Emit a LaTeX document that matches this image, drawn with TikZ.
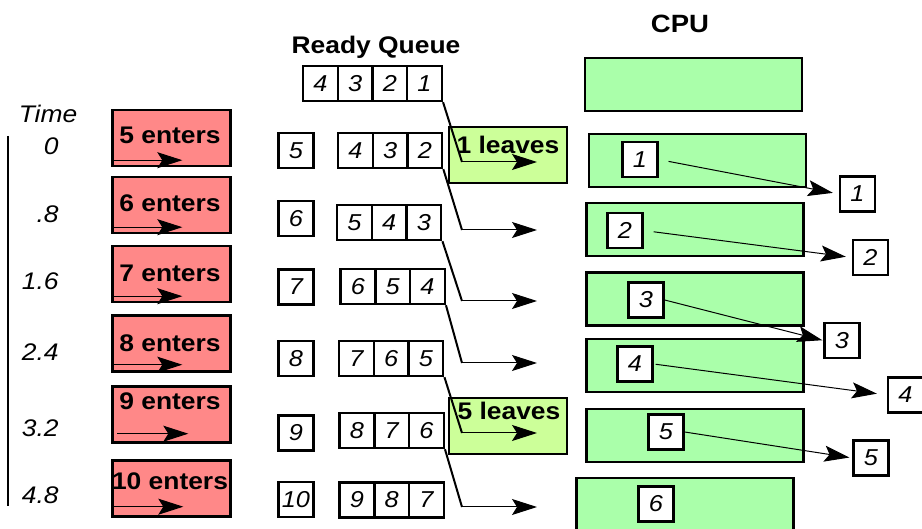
\documentclass[tikz,border=0pt]{standalone}
\usepackage{fontspec}
\setmainfont{Liberation Sans}[FakeStretch=1.1]
\usepackage{tikz}
\usetikzlibrary{
  arrows.meta,
  positioning, calc
}
\definecolor{enterred}{RGB}{255,136,136}
\definecolor{cpugreen}{RGB}{170,255,170}
\definecolor{leavegreen}{RGB}{204,255,153}
\tikzset{
  basebox/.style={rectangle,draw=black,line width=1.2pt,inner sep=0pt},
  enterbox/.style={basebox,fill=enterred,minimum width=59pt,minimum height=28pt},
  leavebox/.style={basebox,fill=leavegreen,minimum width=59pt,minimum height=28pt},
  cpubox/.style={basebox,fill=cpugreen,minimum width=108.5pt,minimum height=26.5pt},
  pidbox/.style={basebox,fill=white,minimum width=17.5pt,minimum height=17.5pt,font=\fontsize{11.5}{13}\selectfont\itshape},
  qcell/.style={pidbox,minimum width=17.35pt},
  boldlbl/.style={inner sep=0pt,font=\fontsize{12}{14}\selectfont\bfseries},
  headlbl/.style={inner sep=0pt,font=\fontsize{12}{14}\selectfont\bfseries},
  timelbl/.style={inner sep=0pt,font=\fontsize{12}{14}\selectfont\itshape},
  arr/.style={-{Stealth[length=12.5pt,width=8pt,inset=2.5pt]},line width=0.5pt},
  qline/.style={line width=1pt}
}

\begin{document}
\begin{tikzpicture}[x=0.5pt,y=-0.5pt]
  \useasboundingbox (0,0) rectangle (922,529);
  \node[timelbl] (time) at (48,114) {Time};
  \coordinate (ttop) at (8,136);
  \coordinate (tbot) at (8,506);
  \draw[line width=1pt] (ttop) -- (tbot);
  \foreach \t/\y [count=\i] in {0/146,.8/214,1.6/281,2.4/352,3.2/428,4.8/495}
    \node[timelbl,anchor=east] (t\i) at (59,\y) {\t};

  \foreach \n/\cy/\ly/\dx/\dy in {5/138/135.5/0/7,6/205/203.5/0/7,7/274/273.5/0/7,8/343.5/343/0/8,9/414.5/401.5/6/10,10/488.5/481.5/1/11} {
    \node[enterbox] (e\n) at (171.5,\cy) {};
    \node[boldlbl] (el\n) at (170,\ly) {\n\ enters};
    \draw[arr] ($(e\n.south west)+(\dx,-\dy)$) -- ++(71,0);
  }

  \foreach \n/\y in {5/150.5,6/218.5,7/287,8/358.5,9/433,10/499.5}
    \node[pidbox] (a\n) at (296,\y) {\n};

  \node[headlbl] (rq) at (376,47) {Ready Queue};
  \foreach \r/\y/\x/\cells in {0/83.5/320.4/{4,3,2,1},1/150.5/355.4/{4,3,2},2/222.5/354.5/{5,4,3},3/286.5/358/{6,5,4},4/358.5/356.5/{7,6,5},5/430.5/357/{8,7,6},6/500/357/{9,8,7}} {
    \foreach \c [count=\k] in \cells
      \node[qcell] (q\r-\c) at (\x+34.7*\k-34.7,\y) {\c};
  }

  \node[leavebox] (lv1) at (508,155) {};
  \node[boldlbl] (lvl1) at (508,144.5) {1 leaves};
  \node[leavebox] (lv5) at (508,426) {};
  \node[boldlbl] (lvl5) at (509,410.5) {5 leaves};

  \foreach \r/\ya in {0/162,1/230,2/301,3/363,4/433,5/507} {
    \pgfmathtruncatemacro\h{\r+1}
    \coordinate (qb\r) at (462,\ya);
    \coordinate (qt\r) at (537,\ya);
    \draw[qline] (q\r-\h.south east) -- (qb\r);
    \draw[arr] (qb\r) -- (qt\r);
  }

  \node[headlbl,font=\fontsize{12.5}{14}\selectfont\bfseries] (cpu) at (680,24) {CPU};
  \foreach \i/\x/\y in {0/693.5/84.5,1/697.5/160.5,2/695/229.5,3/695/299,4/695/365.5,5/695/435.5,6/685/504.5}
    \node[cpubox] (c\i) at (\x,\y) {};
  \foreach \i/\x/\y in {1/640/159.5,2/625/230.5,3/646/300,4/635/364,5/666/432,6/656/504}
    \node[pidbox] (r\i) at (\x,\y) {\i};
  \foreach \i/\x/\y in {1/857.5/194,2/870.5/257.5,3/842/340.5,4/905.5/395,5/871/458}
    \node[pidbox] (d\i) at (\x,\y) {\i};
  \foreach \i/\s/\e in {1/5pt/3pt,2/5pt/3pt,3/0pt/0.5pt,4/1pt/5pt,5/0pt/1.5pt}
    \draw[arr,shorten <=\s,shorten >=\e] (r\i.east) -- (d\i.west);
\end{tikzpicture}
\end{document}
